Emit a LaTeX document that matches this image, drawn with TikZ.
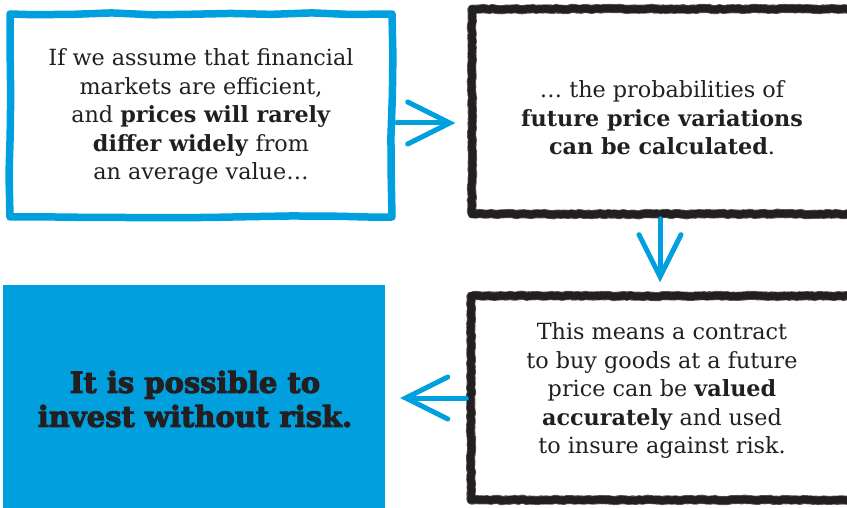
\documentclass[tikz,border=0pt]{standalone}
\usepackage{fontspec}
\setmainfont{DejaVu Serif}
\newfontfamily\heavyfont{DejaVu Serif}[BoldFeatures={FakeBold=3.5}]
\usetikzlibrary{arrows.meta,decorations.pathmorphing,calc}
\definecolor{cyanblue}{RGB}{0,160,223}
\definecolor{ink}{RGB}{35,31,32}
\pgfmathsetseed{11}
\begin{document}
\begin{tikzpicture}[x=1pt,y=-1pt,
  txt/.style={align=center, text=ink, inner sep=0pt, font=\fontsize{22.3}{28.5}\selectfont},
  bluebox/.style={draw=cyanblue, line width=7.5pt, line join=round, inner sep=0pt,
    decorate, decoration={random steps, segment length=40pt, amplitude=1.3pt}},
  blackbox/.style={draw=ink, line width=7.5pt, line join=round, inner sep=0pt,
    decorate, decoration={random steps, segment length=4pt, amplitude=0.6pt},
    preaction={draw=ink!75, line width=9pt, decorate,
      decoration={random steps, segment length=1.2pt, amplitude=0.5pt}}},
  fillbox/.style={fill=cyanblue, inner sep=0pt},
  arr/.style={draw=cyanblue, line width=5pt, line cap=round,
    -{Straight Barb[length=42pt, width=42pt, line width=5pt, line cap=round]}}
]
\useasboundingbox (0,0) rectangle (847,508);
\clip (0,0) rectangle (847,508);

% boxes
\node[bluebox, minimum width=382pt, minimum height=203pt] (b1) at (201,115.5) {};
\node[blackbox, minimum width=400pt, minimum height=205pt] (b2) at (672,111.5) {};
\node[blackbox, minimum width=400pt, minimum height=204pt] (b3) at (671,398) {};
\node[fillbox, minimum width=382pt, minimum height=226pt] (b4) at (194,398) {};

% texts
\node[txt] (t1) at (201,117) {If we assume that financial\\markets are efficient,\\and \textbf{prices will rarely}\\\textbf{differ widely} from\\an average value\dots};
\node[txt] (t2) at (662,118) {\dots\ the probabilities of\\\textbf{future price variations}\\\textbf{can be calculated}.};
\node[txt] (t3) at (662,391) {This means a contract\\to buy goods at a future\\price can be \textbf{valued}\\\textbf{accurately} and used\\to insure against risk.};
\node[txt, font=\heavyfont\bfseries\fontsize{29}{34}\selectfont] (t4) at (195,399) {It is possible to\\invest without risk.};

% connectors
\coordinate (a1s) at ([yshift=-7.5pt]b1.east);
\draw[arr, shorten <=1pt, shorten >=13pt] (a1s) -- (a1s -| b2.west);
\coordinate (a2s) at ([xshift=-12pt]b2.south);
\draw[arr, shorten <=1pt, shorten >=10pt] (a2s) -- (a2s |- b3.north);
\draw[arr, shorten <=1pt, shorten >=15pt] (b3.west) -- (b3.west -| b4.east);
\end{tikzpicture}
\end{document}
